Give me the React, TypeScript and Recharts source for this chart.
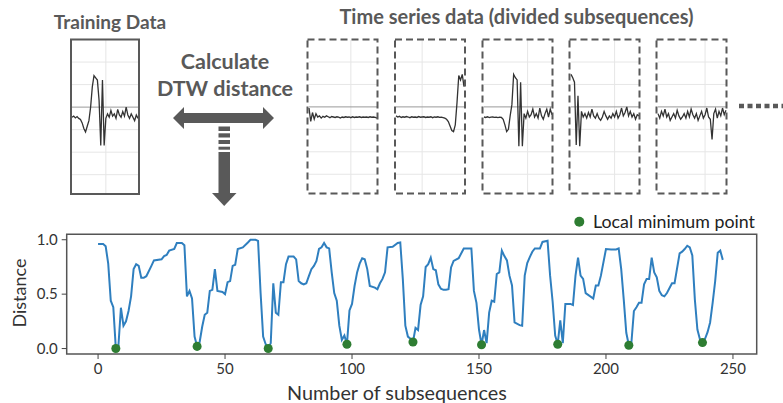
import { ComposedChart, Line, LineChart, ReferenceArea, ReferenceLine, Scatter, XAxis, YAxis } from 'recharts';

// DTW distance per subsequence (vertices of the plotted curve)
const lineIdx = [
  0, 2, 3, 4, 5, 6, 7, 8, 9, 10, 11, 12, 13, 14, 15, 16, 17, 18, 19, 21, 22, 25, 26, 27, 28, 30, 31, 33, 34, 35,
  36, 37, 38, 39, 40, 41, 42, 43, 44, 45, 46, 47, 49, 50, 51, 52, 53, 54, 55, 57, 59, 60, 62, 63, 64, 65, 66, 67,
  68, 69, 70, 71, 72, 73, 74, 75, 77, 78, 79, 80, 81, 82, 83, 84, 85, 86, 87, 88, 89, 90, 91, 92, 93, 94, 95, 96,
  97, 98, 99, 100, 101, 102, 103, 104, 105, 106, 107, 109, 110, 111, 112, 113, 114, 116, 118, 119, 120, 121, 122,
  123, 124, 125, 126, 127, 128, 129, 130, 131, 132, 133, 134, 135, 136, 137, 138, 139, 140, 142, 144, 147, 148,
  149, 150, 151, 152, 153, 154, 155, 156, 157, 158, 159, 160, 161, 162, 163, 164, 166, 167, 168, 169, 170, 171,
  172, 174, 175, 177, 178, 179, 180, 181, 182, 183, 184, 186, 187, 188, 189, 190, 191, 192, 195, 196, 197, 198,
  200, 202, 204, 205, 206, 207, 208, 209, 210, 211, 212, 213, 214, 215, 216, 217, 218, 219, 220, 221, 222, 223,
  224, 226, 227, 229, 230, 231, 232, 233, 234, 235, 236, 237, 238, 239, 240, 241, 242, 243, 244, 245, 246,
];
const lineDist = [
  0.96, 0.96, 0.94, 0.78, 0.44, 0.38, 0.0, 0.02, 0.375, 0.21, 0.25, 0.345, 0.48, 0.73, 0.775, 0.76, 0.65, 0.65,
  0.665, 0.76, 0.81, 0.82, 0.85, 0.86, 0.9, 0.915, 0.97, 0.97, 0.95, 0.48,
  0.53, 0.46, 0.11, 0.02, 0.06, 0.2, 0.31, 0.33, 0.53, 0.54, 0.73, 0.53, 0.52, 0.5, 0.61, 0.62, 0.76, 0.77, 0.915,
  0.93, 0.975, 1.0, 1.0, 0.99, 0.51, 0.11, 0.04, 0.0,
  0.05, 0.6, 0.33, 0.31, 0.61, 0.61, 0.775, 0.845, 0.845, 0.82, 0.62, 0.6, 0.59, 0.6, 0.665, 0.73, 0.76, 0.805,
  0.915, 0.93, 0.97, 0.93, 0.92, 0.7, 0.51, 0.44, 0.21, 0.08,
  0.12, 0.04, 0.35, 0.41, 0.575, 0.7, 0.78, 0.83, 0.82, 0.73, 0.575, 0.56, 0.545, 0.6, 0.64, 0.7, 0.93, 0.935, 0.97,
  0.975, 0.64, 0.21, 0.11,
  0.09, 0.06, 0.19, 0.17, 0.4, 0.48, 0.75, 0.775, 0.835, 0.73, 0.72, 0.59, 0.55, 0.54, 0.54, 0.545, 0.745, 0.805,
  0.83, 0.92, 0.92, 0.53,
  0.42, 0.175, 0.035, 0.17, 0.05, 0.33, 0.44, 0.43, 0.685, 0.7, 0.9, 0.85, 0.81, 0.67, 0.58, 0.24, 0.215, 0.21, 0.67,
  0.785, 0.84, 0.89,
  0.92, 0.92, 0.98, 0.99, 0.67, 0.43, 0.12, 0.04, 0.26, 0.05, 0.41, 0.41, 0.4, 0.67, 0.835, 0.67, 0.64, 0.51, 0.46,
  0.58, 0.58, 0.67,
  0.915, 0.91, 0.91, 0.92, 0.73, 0.45, 0.145, 0.03, 0.05, 0.345, 0.38, 0.42, 0.42, 0.59, 0.64, 0.64, 0.835, 0.7,
  0.655, 0.53, 0.49, 0.48,
  0.51, 0.6, 0.6, 0.875, 0.89, 0.915, 0.945, 0.93, 0.855, 0.45, 0.175, 0.085, 0.055, 0.09, 0.15, 0.24, 0.42, 0.62,
  0.88, 0.9, 0.815,
];

// local minima
const minIdx = [7, 39, 67, 98, 124, 151, 181, 209, 238];
const minDist = [0, 0.02, 0, 0.04, 0.06, 0.035, 0.04, 0.03, 0.055];

const xTicks = [0, 50, 100, 150, 200, 250];
const yTicks = [0, 0.5, 1];

// small signal snippets (top row)
const trainingSignal = [
  -0.45, -0.4, -0.48, -0.42, -0.5, -0.55, -0.7, -0.95, -1.1, -0.85, -0.6, 0.0, 0.9, 1.4, 1.3, 1.2, 0.3, -1.7, 1.2,
  -1.7, -0.5, -0.3, -0.45, -0.15, -0.4, -0.3, -0.5, -0.1, -0.35, -0.45, -0.2, -0.4, 0.0, -0.35, -0.5, -0.3, -0.45,
  -0.6, -0.35, -0.5,
];
const subseq1 = [
  -0.05, -0.65, -0.25, -0.55, -0.3, -0.45, -0.4, -0.5, -0.42, -0.46, -0.4, -0.44, -0.48, -0.43, -0.45, -0.47, -0.44,
  -0.46, -0.5, -0.45, -0.47, -0.44, -0.46, -0.45, -0.48, -0.44, -0.47, -0.45, -0.46, -0.44, -0.47, -0.45, -0.46,
  -0.45, -0.47, -0.44, -0.46, -0.45, -0.47, -0.5,
];
const subseq2 = [
  -0.4, -0.45, -0.42, -0.47, -0.44, -0.46, -0.43, -0.45, -0.48, -0.44, -0.46, -0.45, -0.47, -0.43, -0.46, -0.45,
  -0.44, -0.47, -0.45, -0.46, -0.44, -0.48, -0.45, -0.46, -0.44, -0.47, -0.46, -0.48, -0.5, -0.55, -0.65, -0.85,
  -1.05, -1.1, -0.8, 0.2, 1.4, 1.2, 1.45, 0.9,
];
const subseq3 = [
  -0.45, -0.47, -0.44, -0.48, -0.46, -0.45, -0.47, -0.46, -0.48, -0.46, -0.47, -0.55, -0.8, -1.1, -1.0, -0.4, 0.1,
  1.45, 1.3, 1.2, -1.75, 1.1, -1.75, -0.3, -0.5, -0.2, -0.45, -0.35, -0.1, -0.45, -0.3, -0.5, -0.05, -0.4, -0.55,
  -0.3, -0.1, -0.45, -0.1, -0.35,
];
const subseq4 = [
  1.45, 1.3, 1.1, -1.7, 0.5, -1.75, -0.2, -0.45, -0.3, -0.5, -0.25, -0.45, -0.1, -0.4, -0.5, -0.3, -0.5, -0.6,
  -0.45, -0.2, -0.4, -0.55, -0.4, -0.5, -0.3, -0.45, -0.2, -0.5, -0.35, -0.05, -0.4, -0.25, 0.0, -0.4, -0.2, -0.45,
  -0.3, -0.55, -0.35, -0.4,
];
const subseq5 = [
  -0.3, -0.5, -0.2, -0.4, -0.1, -0.45, -0.3, -0.6, -0.45, -0.3, -0.5, -0.15, -0.4, -0.55, -0.45, -0.3, -0.5, -0.2,
  -0.45, -0.1, -0.35, -0.5, -0.3, -0.6, -0.4, -0.2, -0.5, -0.35, -0.05, -0.45, -0.55, -1.45, -0.3, -0.1, -0.5, -0.2,
  -0.4, -0.05, -0.35, -0.15,
];

const FONT = 'Lato, "Noto Sans", sans-serif';
const GRAY = '#595959';

function Snippet({ values, gridX, left, top, width, height }: {
  values: number[]; gridX: number; left: number; top: number; width: number; height: number;
}) {
  const data = values.map((v, i) => ({ i, v }));
  return (
    <div style={{ position: 'absolute', left, top, width, height }}>
      <LineChart width={width} height={height} data={data} margin={{ top: 0, right: 1, bottom: 0, left: 1 }}>
        <XAxis dataKey="i" type="number" domain={[0, values.length - 1]} hide />
        <YAxis type="number" domain={[-3.88, 2.98]} hide />
        {[-3, -2, -1, 1, 2].map((g) => (
          <ReferenceLine key={g} y={g} stroke="#e6e6e6" strokeWidth={1} />
        ))}
        <ReferenceLine x={gridX} stroke="#e6e6e6" strokeWidth={1} />
        <ReferenceLine y={0} stroke="#9a9a9a" strokeWidth={1} />
        <Line dataKey="v" stroke="#333" strokeWidth={1.3} dot={false} isAnimationActive={false} />
      </LineChart>
    </div>
  );
}

const boxes = [
  { values: subseq1, gridX: 24, left: 307.5 },
  { values: subseq2, gridX: 15, left: 395 },
  { values: subseq3, gridX: 25, left: 482.5 },
  { values: subseq4, gridX: 25, left: 569.5 },
  { values: subseq5, gridX: 27, left: 656.5 },
];

export default function App() {
  const lineData = lineIdx.map((x, i) => ({ x, d: lineDist[i] }));
  const minData = minIdx.map((x, i) => ({ x, d: minDist[i] }));

  return (
    <div style={{ position: 'absolute', left: 0, top: 0, width: 783, height: 403, background: '#fff', fontFamily: FONT, overflow: 'hidden' }}>
      <Snippet values={trainingSignal} gridX={20} left={71} top={39.5} width={68} height={154.5} />
      {boxes.map((b, k) => (
        <Snippet key={k} values={b.values} gridX={b.gridX} left={b.left} top={39.5} width={70} height={154} />
      ))}

      <div style={{ position: 'absolute', left: 0, top: 0 }}>
        <ComposedChart width={783} height={403} margin={{ top: 234.3, right: 26.3, bottom: 19, left: 16.7 }}>
          <XAxis
            dataKey="x"
            type="number"
            domain={[-12.35, 259.35]}
            ticks={xTicks}
            allowDataOverflow
            height={30}
            axisLine={false}
            tickSize={5}
            tickMargin={4}
            tickLine={{ stroke: '#444' }}
            tick={{ fill: '#333', fontSize: 15, fontFamily: FONT }}
          />
          <YAxis
            type="number"
            domain={[-0.05, 1.05]}
            ticks={yTicks}
            allowDataOverflow
            width={50}
            axisLine={false}
            tickSize={5}
            tickMargin={4}
            tickLine={{ stroke: '#444' }}
            tickFormatter={(v: number) => v.toFixed(1)}
            tick={{ fill: '#333', fontSize: 15, fontFamily: FONT }}
          />
          <ReferenceArea x1={-12.35} x2={259.35} y1={-0.05} y2={1.05} fill="none" stroke="#555" strokeWidth={1.5} ifOverflow="visible" />
          <Line data={lineData} dataKey="d" stroke="#2f7fbf" strokeWidth={2} dot={false} isAnimationActive={false} legendType="none" />
          <Scatter data={minData} dataKey="d" fill="#2e7d32" isAnimationActive={false} />
        </ComposedChart>
      </div>

      <svg width={783} height={403} style={{ position: 'absolute', left: 0, top: 0, pointerEvents: 'none' }}>
        <text x={110} y={29} textAnchor="middle" fontSize={19} fontWeight={700} fill={GRAY} fontFamily={FONT}>Training Data</text>
        <text x={516.5} y={23.5} textAnchor="middle" fontSize={20} fontWeight={700} fill={GRAY} fontFamily={FONT}>Time series data (divided subsequences)</text>
        <text x={225} y={68.5} textAnchor="middle" fontSize={21.5} fontWeight={700} fill={GRAY} fontFamily={FONT}>Calculate</text>
        <text x={225} y={95.5} textAnchor="middle" fontSize={21.5} fontWeight={700} fill={GRAY} fontFamily={FONT}>DTW distance</text>

        <rect x={71} y={39.5} width={68} height={154.5} fill="none" stroke={GRAY} strokeWidth={2} />
        {boxes.map((b, k) => (
          <rect key={k} x={b.left} y={39.5} width={70} height={154} fill="none" stroke={GRAY} strokeWidth={2} strokeDasharray="7 4" />
        ))}
        <line x1={739} y1={106} x2={783} y2={106} stroke={GRAY} strokeWidth={4.5} strokeDasharray="5 3.5" />

        <polygon points="173,118 184,107 184,113 263,113 263,107 274,118 263,129 263,123 184,123 184,129" fill={GRAY} />
        <rect x={218.5} y={126.5} width={11.5} height={4.5} fill={GRAY} />
        <rect x={218.5} y={133.3} width={11.5} height={4.2} fill={GRAY} />
        <rect x={218.5} y={140} width={11.5} height={4} fill={GRAY} />
        <rect x={218.5} y={146.7} width={11.5} height={3} fill={GRAY} />
        <rect x={218.5} y={152} width={11.5} height={41.5} fill={GRAY} />
        <polygon points="212,193 236.5,193 224.2,206" fill={GRAY} />

        <circle cx={579.3} cy={221.7} r={5} fill="#2e7d32" />
        <text x={593} y={227.5} fontSize={17.8} fill="#222" fontFamily={FONT}>Local minimum point</text>

        <text x={0} y={0} transform="translate(26,293) rotate(-90)" textAnchor="middle" fontSize={18} fill="#333" fontFamily={FONT}>Distance</text>
        <text x={397} y={400} textAnchor="middle" fontSize={19.8} fill="#333" fontFamily={FONT}>Number of subsequences</text>
      </svg>
    </div>
  );
}
